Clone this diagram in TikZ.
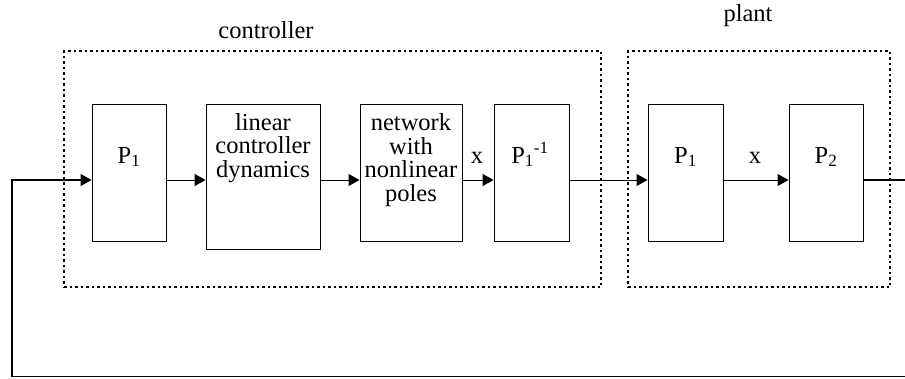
\documentclass[tikz,border=0pt]{standalone}
\usepackage{fontspec}
\setmainfont{Liberation Serif}
\usetikzlibrary{arrows.meta}

\begin{document}
\begin{tikzpicture}[x=1pt, y=-1pt,
  blk/.style={draw, line width=1pt, inner sep=0pt},
  txt/.style={font=\fontsize{24.5}{23.5}\selectfont, align=center, inner sep=0pt},
  frame/.style={draw, line width=1.3pt, dash pattern=on 2.5pt off 3pt, inner sep=0pt},
  sig/.style={line width=1pt, -{Triangle[length=11pt, width=12pt]}}]
\useasboundingbox (0,0) rectangle (905,378);

\node[frame, minimum width=537pt, minimum height=236pt] (ctrl) at (332.5,169) {};
\node[frame, minimum width=262pt, minimum height=236pt] (plnt) at (759,169) {};
\node[txt] (ctrllbl) at (266,30) {controller};
\node[txt] (plntlbl) at (748,16) {plant};

\node[blk, minimum width=74pt, minimum height=137pt] (p1) at (129,172.5) {};
\node[blk, minimum width=114pt, minimum height=145pt] (lin) at (263,176.5) {};
\node[blk, minimum width=102pt, minimum height=137pt] (net) at (411,172.5) {};
\node[blk, minimum width=75pt, minimum height=137pt] (pinv) at (531.5,172.5) {};
\node[blk, minimum width=75pt, minimum height=137pt] (pp1) at (685.5,172.5) {};
\node[blk, minimum width=74pt, minimum height=137pt] (p2) at (826,172.5) {};

\node[txt, anchor=base] (p1t) at (129,163) {P\textsubscript{1}};
\node[txt] (lint) at (263,148) {linear\\controller\\dynamics};
\node[txt] (nett) at (411,160) {network\\with\\nonlinear\\poles};
\node[txt, anchor=base] (pinvt) at (530,163) {P\textsubscript{1}\textsuperscript{-1}};
\node[txt, anchor=base] (pp1t) at (685.5,163) {P\textsubscript{1}};
\node[txt, anchor=base] (p2t) at (826,163) {P\textsubscript{2}};
\node[txt, anchor=base] (xa) at (477,163) {x};
\node[txt, anchor=base] (xb) at (755,163) {x};

\coordinate (sigy) at (0,180);
\coordinate (outr) at (905,180);
\coordinate (fbr) at (905,376.5);
\coordinate (fbl) at (12,376.5);

\draw[sig, line width=1.3pt] (fbr) -- (fbl) |- (p1.west |- sigy);
\draw[sig] (p1.east |- sigy) -- (lin.west |- sigy);
\draw[sig] (lin.east |- sigy) -- (net.west |- sigy);
\draw[sig] (net.east |- sigy) -- (pinv.west |- sigy);
\draw[sig] (pinv.east |- sigy) -- (pp1.west |- sigy);
\draw[sig] (pp1.east |- sigy) -- (p2.west |- sigy);
\draw[line width=2pt] (p2.east |- sigy) -- (outr);
\end{tikzpicture}
\end{document}
